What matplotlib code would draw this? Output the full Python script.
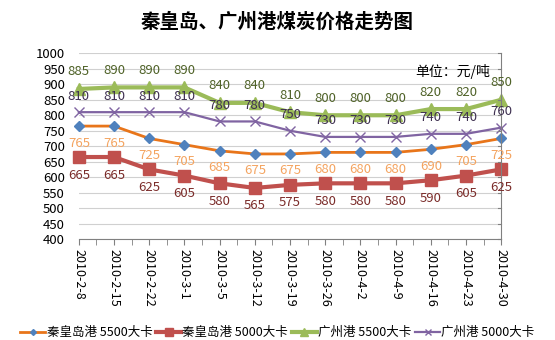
import numpy as np
import matplotlib
matplotlib.use("Agg")
import matplotlib.pyplot as plt

plt.rcParams['font.family'] = ['Noto Sans CJK SC', 'DejaVu Sans']

dates = ["2010-2-8", "2010-2-15", "2010-2-22", "2010-3-1", "2010-3-5",
         "2010-3-12", "2010-3-19", "2010-3-26", "2010-4-2", "2010-4-9",
         "2010-4-16", "2010-4-23", "2010-4-30"]
qhd_5500 = [765, 765, 725, 705, 685, 675, 675, 680, 680, 680, 690, 705, 725]
qhd_5000 = [665, 665, 625, 605, 580, 565, 575, 580, 580, 580, 590, 605, 625]
gz_5500 = [885, 890, 890, 890, 840, 840, 810, 800, 800, 800, 820, 820, 850]
gz_5000 = [810, 810, 810, 810, 780, 780, 750, 730, 730, 730, 740, 740, 760]

x = np.arange(len(dates))

fig = plt.figure(figsize=(5.55, 3.4), dpi=100)
ax = fig.add_axes([0.142, 0.297, 0.761, 0.546])

# series: values, name, line colour, marker, size, width, label colour, label offset, marker colour
series = [
    (qhd_5500, "秦皇岛港 5500大卡", "#E8751A", "D", 5, 2.0, "#F4A460", -17, "#4F81BD"),
    (qhd_5000, "秦皇岛港 5000大卡", "#C0504D", "s", 9, 3.0, "#7B2C2A", -18, "#C0504D"),
    (gz_5500, "广州港 5500大卡", "#9BBB59", "^", 9, 3.0, "#4F6228", 17, "#9BBB59"),
    (gz_5000, "广州港 5000大卡", "#8064A2", "x", 7, 1.6, "#3F3151", 16, "#8064A2"),
]

for vals, name, col, mk, ms, lw, lcol, off, mcol in series:
    ax.plot(x, vals, color=col, lw=lw, marker=mk, ms=ms, mfc=mcol, mec=mcol,
            mew=1.0, label=name, clip_on=False)
    for xi, v in zip(x, vals):
        ax.annotate(str(v), (xi, v), xytext=(0, off), textcoords='offset pixels',
                    ha='center', va='center', fontsize=9.5, color=lcol)

ax.set_xlim(0, 12)
ax.set_ylim(400, 1000)
ax.set_yticks(range(400, 1001, 50))
ax.set_xticks(x)
ax.set_xticklabels(dates, rotation=270, fontsize=9)
ax.set_xticks(np.arange(0.5, 12, 1), minor=True)
ax.tick_params(axis='x', which='both', length=4, color='#808080', pad=3)
ax.tick_params(axis='y', length=0, labelsize=9.5, pad=10)
ax.grid(axis='y', color='#D0D0D0', lw=0.8)
ax.set_axisbelow(True)
for s in ['top', 'left']:
    ax.spines[s].set_visible(False)
ax.spines['bottom'].set_color('#808080')
ax.spines['right'].set_color('#808080')
for yv in range(400, 1001, 50):
    ax.plot([11.9, 12], [yv, yv], color='#808080', lw=0.8, clip_on=False)

ax.text(0.975, 0.9, "单位：元/吨", transform=ax.transAxes, ha='right',
        va='center', fontsize=10)

fig.text(0.5, 0.935, "秦皇岛、广州港煤炭价格走势图", ha='center', va='center',
         fontsize=14, fontweight='bold')

fig.legend(loc='lower center', bbox_to_anchor=(0.5, -0.02), ncol=4,
           frameon=False, fontsize=9, handlelength=2.0, columnspacing=0.3,
           handletextpad=0.1, borderaxespad=0.2, markerscale=0.6)

fig.savefig("out.png", dpi=100)
